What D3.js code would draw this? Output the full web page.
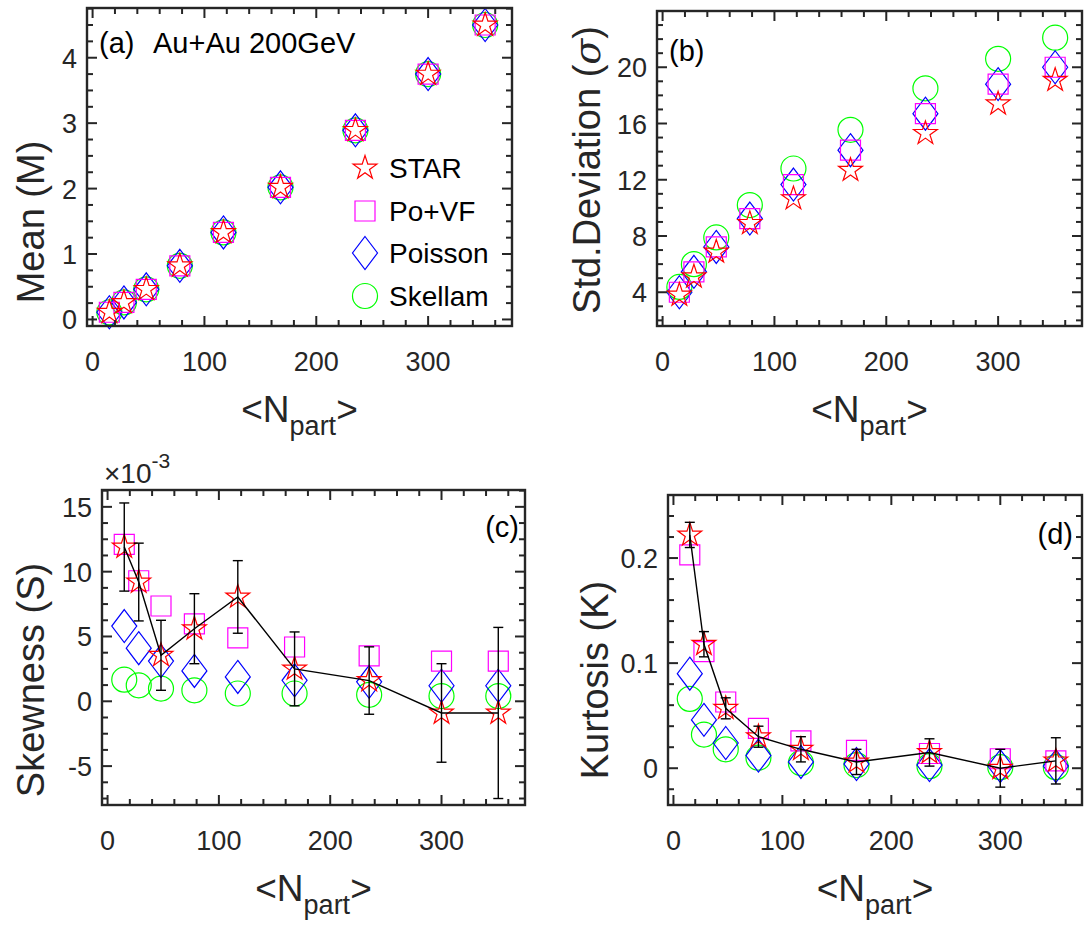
<!DOCTYPE html>
<html><head><meta charset="utf-8">
<script src="https://cdn.jsdelivr.net/npm/d3@7"></script>
<style>
body{margin:0;background:#fff}
svg{display:block}
text{font-family:"Liberation Sans",Arial,Helvetica,sans-serif}
</style>
</head><body>
<svg id="c" width="1085" height="938"></svg>
<script>
// ---------------- DATA ----------------
const npart = [15, 28, 48, 78, 117, 168, 235, 300, 351];
const xTicks = [0, 100, 200, 300];
const seriesNames = ["STAR", "Po+VF", "Poisson", "Skellam"];

// (a) Mean
const meanSTAR    = [0.11, 0.26, 0.46, 0.82, 1.33, 2.02, 2.89, 3.75, 4.50];
const meanPoVF    = [0.11, 0.26, 0.46, 0.82, 1.33, 2.02, 2.89, 3.75, 4.50];
const meanPoisson = [0.11, 0.26, 0.46, 0.82, 1.33, 2.02, 2.89, 3.75, 4.50];
const meanSkellam = [0.11, 0.26, 0.46, 0.82, 1.33, 2.02, 2.89, 3.75, 4.50];
const meanTicks = [0, 1, 2, 3, 4];

// (b) Std. deviation
const sdSTAR    = [3.8, 5.1, 6.87, 8.9, 10.66, 12.68, 15.3, 17.4, 19.08];
const sdPoVF    = [4.0, 5.45, 7.22, 9.24, 11.66, 14.1, 16.7, 18.8, 20.0];
const sdPoisson = [4.0, 5.45, 7.22, 9.24, 11.66, 14.1, 16.7, 18.8, 20.0];
const sdSkellam = [4.38, 6.0, 7.9, 10.2, 12.8, 15.55, 18.5, 20.6, 22.1];
const sdTicks = [4, 8, 12, 16, 20];

// (c) Skewness, in units of 1e-3
const skSTAR    = [11.9, 9.2, 3.55, 5.6, 8.05, 2.5, 1.6, -0.9, -0.9];
const skSTARerr = [3.4, 3.0, 2.7, 2.7, 2.8, 2.85, 2.6, 3.8, 6.6];
const skPoVF    = [12.1, 9.3, 7.35, 5.97, 4.9, 4.19, 3.5, 3.1, 3.1];
const skPoisson = [5.8, 4.1, 3.1, 2.34, 1.88, 1.62, 1.5, 1.2, 1.2];
const skSkellam = [1.67, 1.23, 0.98, 0.85, 0.6, 0.6, 0.5, 0.4, 0.4];
const skTicks = [-5, 0, 5, 10, 15];

// (d) Kurtosis
const kuSTAR    = [0.222, 0.118, 0.057, 0.030, 0.018, 0.006, 0.015, 0.000, 0.007];
const kuSTARerr = [0.012, 0.012, 0.010, 0.010, 0.012, 0.012, 0.013, 0.018, 0.022];
const kuPoVF    = [0.203, 0.111, 0.063, 0.038, 0.026, 0.017, 0.014, 0.009, 0.007];
const kuPoisson = [0.090, 0.046, 0.024, 0.012, 0.006, 0.004, 0.003, 0.002, 0.002];
const kuSkellam = [0.066, 0.032, 0.018, 0.010, 0.005, 0.003, 0.002, 0.001, 0.001];
const kuTicks = [0, 0.1, 0.2];

// ---------------- DRAWING ----------------
const svg = d3.select("#c");
const AX = "#262626";
const COL = {star: "#ff0000", square: "#ff00ff", diamond: "#0000ff", circle: "#00ff00"};

function starPath(R) {
  const r = R * 0.382, p = [];
  for (let i = 0; i < 10; i++) {
    const a = -Math.PI / 2 + i * Math.PI / 5, rr = i % 2 ? r : R;
    p.push([(rr * Math.cos(a)).toFixed(2), (rr * Math.sin(a)).toFixed(2)]);
  }
  return "M" + p.map(q => q.join(",")).join("L") + "Z";
}
const SHAPES = {
  star:    {d: starPath(12.5)},
  square:  {d: "M-10,-10H10V10H-10Z"},
  diamond: {d: "M0,-16.5L12.5,0L0,16.5L-12.5,0Z"},
  circle:  {d: d3.arc()({innerRadius: 0, outerRadius: 12.5, startAngle: 0, endAngle: 2 * Math.PI})}
};
function marker(g, type, x, y) {
  g.append("path").attr("d", SHAPES[type].d)
    .attr("transform", `translate(${x},${y})`)
    .attr("fill", "none").attr("stroke", COL[type]).attr("stroke-width", 1.2);
}

function panel(cfg) {
  const x = d3.scaleLinear().domain([-5, 375]).range([cfg.x0, cfg.x1]);
  const y = d3.scaleLinear().domain(cfg.ydom).range([cfg.y1, cfg.y0]);
  const g = svg.append("g");

  const order = [["circle", cfg.skellam], ["diamond", cfg.poisson], ["square", cfg.povf], ["star", cfg.star]];
  order.forEach(([type, vals]) => {
    vals.forEach((v, i) => marker(g, type, x(npart[i]), y(v)));
  });
  if (cfg.err) {
    g.append("path").datum(cfg.star)
      .attr("d", d3.line().x((d, i) => x(npart[i])).y(d => y(d)))
      .attr("fill", "none").attr("stroke", "#000").attr("stroke-width", 1.4);
    cfg.star.forEach((v, i) => {
      const xx = x(npart[i]), lo = y(v - cfg.err[i]), hi = y(v + cfg.err[i]);
      g.append("line").attr("x1", xx).attr("x2", xx).attr("y1", lo).attr("y2", hi).attr("stroke", "#000").attr("stroke-width", 1.4);
      [lo, hi].forEach(yy => g.append("line").attr("x1", xx - 5).attr("x2", xx + 5).attr("y1", yy).attr("y2", yy).attr("stroke", "#000").attr("stroke-width", 1.4));
    });
  }

  const t = svg.append("g").attr("stroke", AX).attr("stroke-width", 2);
  d3.range(0, 375, 20).forEach(v => {
    const len = xTicks.includes(v) ? 10 : 6, xx = x(v);
    t.append("line").attr("x1", xx).attr("x2", xx).attr("y1", cfg.y1).attr("y2", cfg.y1 - len);
    t.append("line").attr("x1", xx).attr("x2", xx).attr("y1", cfg.y0).attr("y2", cfg.y0 + len);
  });
  cfg.yMinor.forEach(v => {
    if (v < cfg.ydom[0] || v > cfg.ydom[1]) return;
    const major = cfg.yTicks.some(m => Math.abs(m - v) < 1e-9);
    const len = major ? 10 : 6, yy = y(v);
    t.append("line").attr("x1", cfg.x0).attr("x2", cfg.x0 + len).attr("y1", yy).attr("y2", yy);
    t.append("line").attr("x1", cfg.x1).attr("x2", cfg.x1 - len).attr("y1", yy).attr("y2", yy);
  });
  svg.append("rect").attr("x", cfg.x0).attr("y", cfg.y0)
    .attr("width", cfg.x1 - cfg.x0).attr("height", cfg.y1 - cfg.y0)
    .attr("fill", "none").attr("stroke", AX).attr("stroke-width", 2.4);

  xTicks.forEach(v => {
    svg.append("text").attr("x", x(v)).attr("y", cfg.y1 + 45)
      .attr("text-anchor", "middle").attr("font-size", 27).attr("fill", AX).text(v);
  });
  cfg.yTicks.forEach(v => {
    svg.append("text").attr("x", cfg.x0 - 10).attr("y", y(v) + 10)
      .attr("text-anchor", "end").attr("font-size", 27).attr("fill", AX).text(cfg.yFmt(v));
  });

  const xl = svg.append("text").attr("x", (cfg.x0 + cfg.x1) / 2).attr("y", cfg.y1 + 96)
    .attr("text-anchor", "middle").attr("font-size", 37).attr("fill", AX);
  xl.append("tspan").text("<N");
  xl.append("tspan").attr("font-size", 27).attr("dy", 13).text("part");
  xl.append("tspan").attr("dy", -13).text(">");

  const yl = svg.append("text")
    .attr("transform", `translate(${cfg.ylx},${cfg.ylc}) rotate(-90)`)
    .attr("text-anchor", "middle").attr("font-size", 38).attr("fill", AX);
  cfg.ylabel(yl);
  return {x, y};
}

// (a)
panel({x0: 87, x1: 512, y0: 8, y1: 326, ydom: [-0.1, 4.76], yTicks: meanTicks,
  yMinor: d3.range(0, 4.76, 0.25), yFmt: d => d, ylx: 44, ylc: 222,
  ylabel: t => t.text("Mean (M)"),
  star: meanSTAR, povf: meanPoVF, poisson: meanPoisson, skellam: meanSkellam});
// (b)
panel({x0: 657, x1: 1082, y0: 11, y1: 326, ydom: [1.6, 24], yTicks: sdTicks,
  yMinor: d3.range(2, 24.01, 1), yFmt: d => d, ylx: 600, ylc: 170,
  ylabel: t => { t.append("tspan").text("Std.Deviation ("); t.append("tspan").attr("font-style", "italic").attr("font-family", "DejaVu Serif").text("σ"); t.append("tspan").text(")"); },
  star: sdSTAR, povf: sdPoVF, poisson: sdPoisson, skellam: sdSkellam});
// (c)
panel({x0: 102, x1: 525, y0: 490, y1: 805, ydom: [-8, 16.3], yTicks: skTicks,
  yMinor: d3.range(-7.5, 16.31, 1.25), yFmt: d => d, ylx: 44, ylc: 680,
  ylabel: t => t.text("Skewness (S)"),
  star: skSTAR, err: skSTARerr, povf: skPoVF, poisson: skPoisson, skellam: skSkellam});
// (d)
panel({x0: 668, x1: 1082, y0: 495, y1: 805, ydom: [-0.035, 0.26], yTicks: kuTicks,
  yMinor: d3.range(-0.02, 0.261, 0.02), yFmt: d => d, ylx: 608, ylc: 680,
  ylabel: t => t.text("Kurtosis (K)"),
  star: kuSTAR, err: kuSTARerr, povf: kuPoVF, poisson: kuPoisson, skellam: kuSkellam});

// panel annotations
svg.append("text").attr("x", 99).attr("y", 53).attr("font-size", 29).attr("fill", "#000").text("(a)");
svg.append("text").attr("x", 153).attr("y", 53).attr("font-size", 29).attr("fill", "#000").text("Au+Au 200GeV");
svg.append("text").attr("x", 669).attr("y", 61).attr("font-size", 29).attr("fill", "#000").text("(b)");
svg.append("text").attr("x", 519).attr("y", 537).attr("text-anchor", "end").attr("font-size", 29).attr("fill", "#000").text("(c)");
svg.append("text").attr("x", 1073).attr("y", 544).attr("text-anchor", "end").attr("font-size", 29).attr("fill", "#000").text("(d)");
const ex = svg.append("text").attr("x", 104).attr("y", 483).attr("font-size", 28).attr("fill", AX);
ex.append("tspan").text("×10");
ex.append("tspan").attr("font-size", 21).attr("dy", -15).text("-3");

// legend in (a)
const legY = [168, 211, 253, 296];
const legTypes = ["star", "square", "diamond", "circle"];
const lg = svg.append("g");
seriesNames.forEach((name, i) => {
  marker(lg, legTypes[i], 365, legY[i]);
  lg.append("text").attr("x", 389).attr("y", legY[i] + 10).attr("font-size", 28).attr("fill", "#000").text(name);
});
</script>
</body></html>
